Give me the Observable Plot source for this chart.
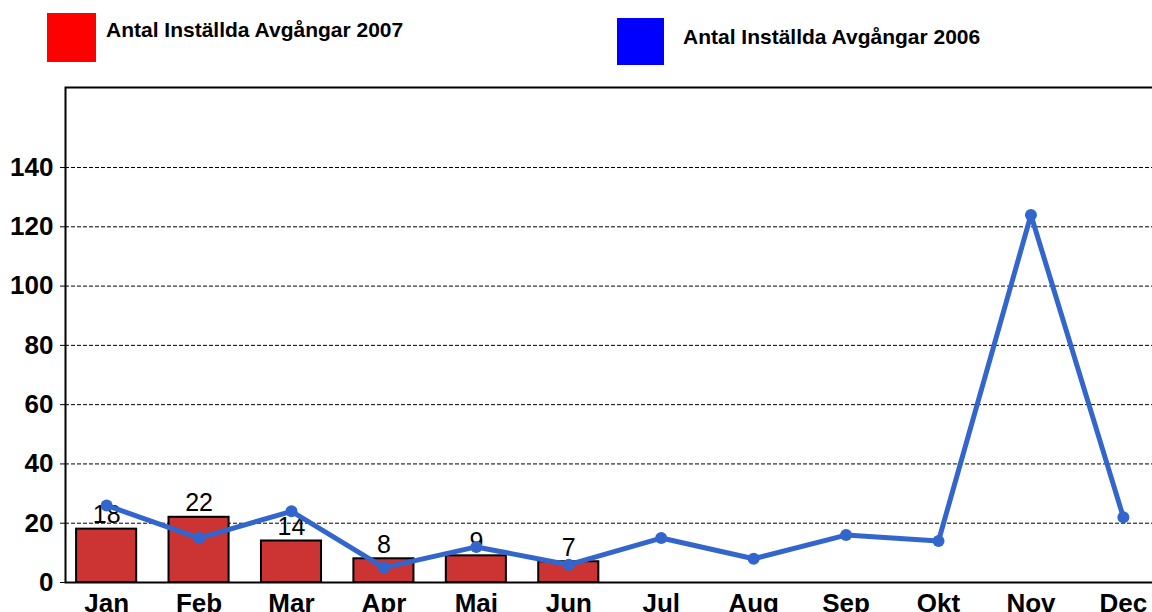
<!DOCTYPE html>
<html>
<head>
<meta charset="utf-8">
<script src="https://cdn.jsdelivr.net/npm/d3@7"></script>
<script src="https://cdn.jsdelivr.net/npm/@observablehq/plot@0.6"></script>
<style>
  html, body { margin: 0; padding: 0; background: #fff; overflow: hidden; }
  body { width: 1152px; height: 612px; font-family: "Liberation Sans", Arial, sans-serif; }
  #legend { position: relative; width: 1152px; height: 80px; }
  .sw { position: absolute; }
  .lt { position: absolute; font-weight: bold; font-size: 21px; color: #000; white-space: nowrap; line-height: 1; }
  #chart svg { display: block; }
</style>
</head>
<body>
<div id="legend">
  <div class="sw" style="left:47px;top:13px;width:49px;height:49px;background:#ff0000"></div>
  <div class="lt" id="l2007" style="left:106px;top:19px"></div>
  <div class="sw" style="left:617px;top:18px;width:47px;height:47px;background:#0000ff"></div>
  <div class="lt" id="l2006" style="left:683px;top:26px"></div>
</div>
<div id="chart"></div>
<script>
const months = ["Jan","Feb","Mar","Apr","Maj","Jun","Jul","Aug","Sep","Okt","Nov","Dec"];
const months2007 = ["Jan","Feb","Mar","Apr","Maj","Jun"];
const values2007 = [18, 22, 14, 8, 9, 7];
const values2006 = [26, 15, 24, 5, 12, 6, 15, 8, 16, 14, 124, 22];
const yTicks = [0, 20, 40, 60, 80, 100, 120, 140];
const gridTicks = [20, 40, 60, 80, 100, 120, 140];
const seriesNames = ["Antal Inställda Avgångar 2007", "Antal Inställda Avgångar 2006"];

document.getElementById("l2007").textContent = seriesNames[0];
document.getElementById("l2006").textContent = seriesNames[1];

const bars = months2007.map((m, i) => ({month: m, value: values2007[i]}));
const line = months.map((m, i) => ({month: m, value: values2006[i]}));

const font = "'Liberation Sans', Arial, sans-serif";

const chart = Plot.plot({
  width: 1152,
  height: 532,
  marginTop: 7,
  marginBottom: 30,
  marginLeft: 65,
  marginRight: -12,
  style: {fontFamily: font, background: "#fff", overflow: "hidden"},
  x: {type: "band", domain: months, paddingInner: 0.35, paddingOuter: 0.12, align: 0.5, round: false, label: null},
  y: {domain: [0, 167], label: null},
  marks: [
    Plot.gridY(gridTicks, {stroke: "#000", strokeOpacity: 1, strokeWidth: 1, strokeDasharray: "4,2"}),
    Plot.barY(bars, {x: "month", y: "value", fill: "#cc3333", stroke: "#000", strokeWidth: 2}),
    Plot.text(bars, {x: "month", y: "value", text: d => String(d.value), lineAnchor: "bottom", dy: -6, fontSize: 25, fill: "#000"}),
    Plot.line(line, {x: "month", y: "value", stroke: "#3366cc", strokeWidth: 5, strokeLinejoin: "miter"}),
    Plot.dot(line, {x: "month", y: "value", r: 6, fill: "#3366cc", stroke: "none"}),
    Plot.axisY(yTicks, {tickSize: 5, tickPadding: 7, fontSize: 26, fontWeight: "bold", stroke: "#000", strokeWidth: 1, fill: "#000"}),
    Plot.axisX({tickSize: 0, tickPadding: 11, fontSize: 26, fontWeight: "bold", fill: "#000"}),
    Plot.frame({stroke: "#000", strokeWidth: 2})
  ]
});
document.getElementById("chart").appendChild(chart);
</script>
</body>
</html>
